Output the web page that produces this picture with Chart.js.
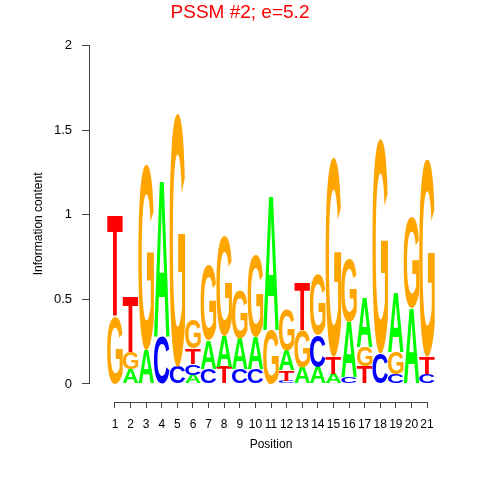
<!DOCTYPE html>
<html>
<head>
<meta charset="utf-8">
<script src="https://cdn.jsdelivr.net/npm/chart.js@4/dist/chart.umd.min.js"></script>
<style>
  body { margin: 0; background: #fff; }
</style>
</head>
<body>
<canvas id="logo" width="480" height="480"></canvas>
<script>
// posições do motivo e conteúdo de informação por letra (bits)
const positions = [1, 2, 3, 4, 5, 6, 7, 8, 9, 10, 11, 12, 13, 14, 15, 16, 17, 18, 19, 20, 21];
const bitsA = [0, 0.09, 0.2, 0.93, 0, 0.055, 0.17, 0.18, 0.18, 0.19, 0.8, 0.12, 0.1, 0.1, 0.06, 0.33, 0.29, 0, 0.35, 0.45, 0];
const bitsC = [0, 0, 0, 0.28, 0.1, 0.065, 0.09, 0, 0.09, 0.09, 0, 0.02, 0, 0.19, 0, 0.04, 0, 0.18, 0.06, 0, 0.06];
const bitsG = [0.4, 0.1, 1.1, 0, 1.5, 0.17, 0.44, 0.59, 0.29, 0.48, 0.32, 0.24, 0.22, 0.36, 1.18, 0.37, 0.115, 1.27, 0.13, 0.54, 1.17];
const bitsT = [0.6, 0.33, 0, 0, 0, 0.09, 0, 0.1, 0, 0, 0, 0.06, 0.28, 0, 0.1, 0, 0.105, 0, 0, 0, 0.1];
const yTicks = [0, 0.5, 1, 1.5, 2];

const letterColors = { A: '#00FF00', C: '#0000FF', G: '#FFA500', T: '#FF0000' };
const letterBits = { A: bitsA, C: bitsC, G: bitsG, T: bitsT };

// cada dataset = um "andar" da pilha (menor embaixo)
const datasets = [0, 1, 2, 3].map(function (rank) {
  return {
    data: positions.map(function (p, i) {
      const col = ['A', 'C', 'G', 'T']
        .map(function (l) { return { l: l, v: letterBits[l][i] }; })
        .sort(function (a, b) { return a.v - b.v; });
      return { x: p, y: col[rank].v, letter: col[rank].l };
    }),
    backgroundColor: 'rgba(0,0,0,0)',
    borderWidth: 0,
    barPercentage: 1,
    categoryPercentage: 1
  };
});

const logoLetters = {
  id: 'logoLetters',
  afterDatasetsDraw(chart) {
    const ctx = chart.ctx;
    ctx.save();
    ctx.font = 'bold 100px "Liberation Sans", Arial, sans-serif';
    ctx.textAlign = 'left';
    ctx.textBaseline = 'alphabetic';
    chart.data.datasets.forEach(function (ds, di) {
      chart.getDatasetMeta(di).data.forEach(function (bar, i) {
        const d = ds.data[i];
        const p = bar.getProps(['x', 'y', 'base', 'width'], true);
        const h = p.base - p.y;
        if (h < 0.5) return;
        const m = ctx.measureText(d.letter);
        const inkW = m.actualBoundingBoxLeft + m.actualBoundingBoxRight;
        const inkH = m.actualBoundingBoxAscent + m.actualBoundingBoxDescent;
        ctx.save();
        ctx.translate(p.x - p.width / 2, p.y);
        ctx.scale(p.width / inkW, h / inkH);
        ctx.fillStyle = letterColors[d.letter];
        ctx.fillText(d.letter, m.actualBoundingBoxLeft, m.actualBoundingBoxAscent);
        ctx.restore();
      });
    });
    ctx.restore();
  },
  afterDraw(chart) {
    const ctx = chart.ctx, x = chart.scales.x, y = chart.scales.y;
    ctx.save();
    ctx.strokeStyle = '#444';
    ctx.lineWidth = 1;
    ctx.beginPath();
    const lx = Math.round(chart.chartArea.left) - 0.5;
    ctx.moveTo(lx, y.getPixelForValue(0));
    ctx.lineTo(lx, y.getPixelForValue(2));
    const by = Math.round(chart.chartArea.bottom) + 0.5;
    ctx.moveTo(x.getPixelForValue(positions[0]), by);
    ctx.lineTo(x.getPixelForValue(positions[positions.length - 1]), by);
    ctx.stroke();
    ctx.restore();
  }
};

Chart.defaults.font.family = '"Liberation Sans", Arial, sans-serif';
Chart.defaults.color = '#000';

new Chart(document.getElementById('logo').getContext('2d'), {
  type: 'bar',
  data: { datasets: datasets },
  plugins: [logoLetters],
  options: {
    responsive: false,
    animation: false,
    layout: { padding: { left: 28, right: 28, top: 0, bottom: 20 } },
    plugins: {
      legend: { display: false },
      tooltip: { enabled: false },
      title: {
        display: true,
        text: 'PSSM #2; e=5.2',
        color: '#FF0000',
        font: { size: 19, weight: 'normal' },
        padding: { top: 1, bottom: 22 }
      }
    },
    scales: {
      x: {
        type: 'linear',
        stacked: true,
        offset: false,
        min: -0.6,
        max: 22.6,
        afterBuildTicks: function (s) { s.ticks = positions.map(function (v) { return { value: v }; }); },
        afterFit: function (s) { s.height = 58; },
        border: { display: false },
        grid: { offset: false, drawOnChartArea: false, tickLength: 6, color: '#444' },
        ticks: { autoSkip: false, maxRotation: 0, padding: 9, font: { size: 12 } },
        title: { display: true, text: 'Position', font: { size: 12 }, padding: { top: 0, bottom: 8 } }
      },
      y: {
        stacked: true,
        min: -0.1065,
        max: 2,
        afterBuildTicks: function (s) { s.ticks = yTicks.map(function (v) { return { value: v }; }); },
        afterFit: function (s) { s.width = 62; },
        border: { display: false },
        grid: { drawOnChartArea: false, tickLength: 8, color: '#444' },
        ticks: { padding: 10, font: { size: 13 }, callback: function (v) { return String(v); } },
        title: { display: true, text: 'Information content', font: { size: 12 }, padding: { top: 3, bottom: 0 } }
      }
    }
  }
});
</script>
</body>
</html>
